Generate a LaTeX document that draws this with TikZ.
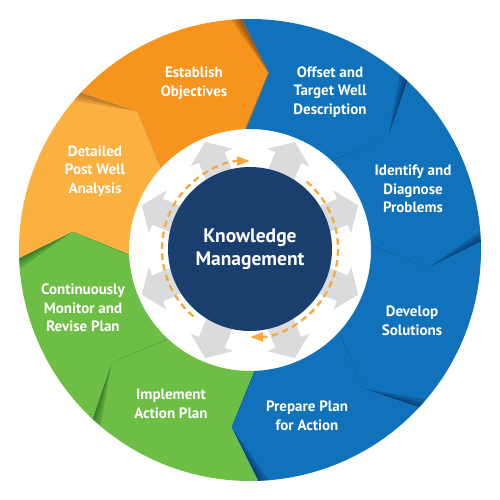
\documentclass[tikz,border=0pt]{standalone}
\usepackage{fontspec}
\setmainfont{PT Sans}
\usetikzlibrary{arrows.meta}
\definecolor{cOrange}{RGB}{247,148,30}
\definecolor{cLOrange}{RGB}{251,176,64}
\definecolor{cGreen}{RGB}{108,190,69}
\definecolor{cBlue}{RGB}{16,114,187}
\definecolor{cNavy}{RGB}{26,62,110}
\definecolor{cGray}{RGB}{218,219,221}
\definecolor{cDash}{RGB}{248,168,60}
\definecolor{sOrange}{RGB}{110,60,15}
\definecolor{sLOrange}{RGB}{150,95,30}
\definecolor{sBlue}{RGB}{6,45,95}
\definecolor{sGreen}{RGB}{35,95,35}
\tikzset{
  seglabel/.style={text=white, align=center, font=\bfseries\fontsize{15}{18.5}\selectfont},
  kmlabel/.style={circle, fill=cNavy, minimum size=164pt, inner sep=0pt, text=white, align=center, font=\bfseries\fontsize{19.5}{23}\selectfont},
  dasharc/.style={cDash, line width=2.3pt, dash pattern=on 6.5pt off 4.5pt, -{Triangle[length=13pt,width=9pt]}},
}
\begin{document}
\begin{tikzpicture}[x=1pt,y=1pt]
\useasboundingbox (-250,-250) rectangle (250,250);
\fill[white] (-250,-250) rectangle (250,250);
% segments
\foreach \a/\c/\s in {47/cBlue/sBlue, 2/cBlue/sBlue, -43/cBlue/sBlue, -88/cBlue/sBlue, -133/cGreen/sGreen, -178/cGreen/sGreen, 137/cLOrange/sLOrange, 92/cOrange/sOrange}{
  \fill[\c] ({\a}:121) -- ({\a-8}:178) -- ({\a}:231) arc[start angle=\a, end angle=\a+45, radius=231] -- ({\a+37}:178) -- ({\a+45}:121) arc[start angle=\a+45, end angle=\a, radius=121] -- cycle;
  \foreach \d in {0.8,1.6,2.6}{
    \fill[\s, opacity=0.28] ({\a}:231) -- ({\a-8}:178) -- ({\a+\d}:231) -- cycle;
  }
  \draw[\s, opacity=0.45, line width=0.8pt] ({\a-8}:178) -- ({\a}:122);
}
% gray arrows
\foreach \t in {22.5,67.5,...,337.5}{
  \fill[cGray, rotate=\t] (60,-14) -- (100,-14) -- (100,-23) -- (117,0) -- (100,23) -- (100,14) -- (60,14) -- cycle;
}
% centre
\node[kmlabel] (km) at (0,1) {Knowledge\\Management};
% dashed circular arrows
\coordinate (c0) at (0,1);
\draw[dasharc] ([shift={(230:88)}]c0) arc[start angle=230, end angle=90, radius=88];
\draw[dasharc] ([shift={(50:88)}]c0) arc[start angle=50, end angle=-90, radius=88];
% labels
\node[seglabel] (est) at (-56,167) {Establish\\Objectives};
\node[seglabel] (off) at (80,158) {Offset and\\Target Well\\Description};
\node[seglabel] (idn) at (163,61) {Identify and\\Diagnose\\Problems};
\node[seglabel] (dev) at (162,-71) {Develop\\Solutions};
\node[seglabel] (pre) at (57,-166) {Prepare Plan\\for Action};
\node[seglabel] (imp) at (-79,-154) {Implement\\Action Plan};
\node[seglabel] (con) at (-167,-58) {Continuously\\Monitor and\\Revise Plan};
\node[seglabel] (det) at (-155,79) {Detailed\\Post Well\\Analysis};
\end{tikzpicture}
\end{document}
